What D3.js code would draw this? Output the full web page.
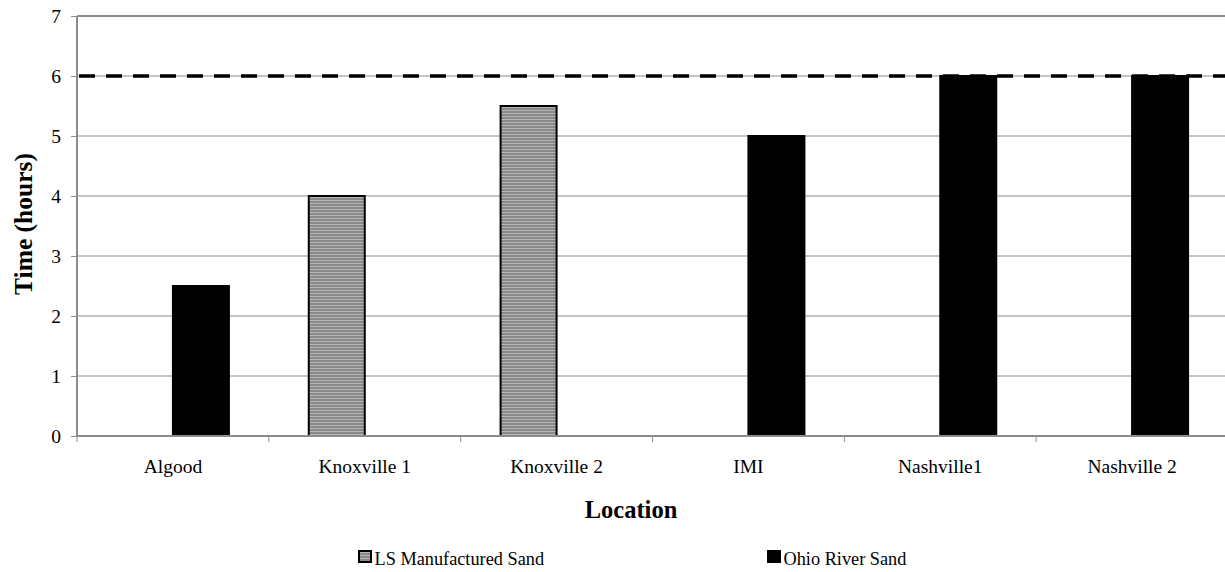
<!DOCTYPE html>
<html>
<head>
<meta charset="utf-8">
<script src="https://cdn.jsdelivr.net/npm/d3@7"></script>
<style>
  html, body { margin: 0; padding: 0; background: #fff; }
  svg { display: block; }
  svg text { font-family: 'Liberation Serif', 'Times New Roman', Times, 'DejaVu Serif', serif; fill: #000; }
</style>
</head>
<body>
<svg id="chart" width="1225" height="572"></svg>
<script>
// Set times by location and sand type (hours)
const locations = ["Algood", "Knoxville 1", "Knoxville 2", "IMI", "Nashville1", "Nashville 2"];
const seriesNames = ["LS Manufactured Sand", "Ohio River Sand"];
const lsSand = [null, 4, 5.5, null, null, null];
const ohioSand = [2.5, null, null, 5, 6, 6];
const yTicks = [0, 1, 2, 3, 4, 5, 6, 7];
const limitHours = 6;

const svg = d3.select("#chart");
const margin = { left: 77, top: 16, right: 1228, bottom: 436 };

const x = d3.scaleBand().domain(locations).range([margin.left, margin.right]).padding(0);
const y = d3.scaleLinear().domain([0, 7]).range([margin.bottom, margin.top]);
const sub = d3.scaleBand().domain(seriesNames).range([-56, 56]).padding(0);

// Striped fill for the manufactured sand bars
const defs = svg.append("defs");
const pat = defs.append("pattern").attr("id", "stripes")
  .attr("patternUnits", "userSpaceOnUse").attr("width", 4).attr("height", 3);
pat.append("rect").attr("width", 4).attr("height", 3).attr("fill", "#8a8a8a");
pat.append("rect").attr("y", 2).attr("width", 4).attr("height", 1).attr("fill", "#b4b4b4");

// Horizontal gridlines
svg.append("g").selectAll("line").data(yTicks.filter(d => d > 0 && d < 7)).join("line")
  .attr("x1", margin.left).attr("x2", margin.right)
  .attr("y1", d => y(d)).attr("y2", d => y(d))
  .attr("stroke", "#8c8c8c").attr("stroke-width", 1);

// Top frame edge
svg.append("line").attr("x1", margin.left).attr("x2", margin.right)
  .attr("y1", y(7)).attr("y2", y(7)).attr("stroke", "#8c8c8c").attr("stroke-width", 2);

// Bars
const fills = { "LS Manufactured Sand": "url(#stripes)", "Ohio River Sand": "#000" };
const rows = [];
locations.forEach((loc, i) => {
  if (lsSand[i] != null) rows.push({ loc, s: seriesNames[0], v: lsSand[i] });
  if (ohioSand[i] != null) rows.push({ loc, s: seriesNames[1], v: ohioSand[i] });
});
svg.append("g").selectAll("rect").data(rows).join("rect")
  .attr("x", d => x(d.loc) + x.bandwidth() / 2 + sub(d.s))
  .attr("width", sub.bandwidth())
  .attr("y", d => y(d.v))
  .attr("height", d => y(0) - y(d.v))
  .attr("fill", d => fills[d.s])
  .attr("stroke", "#000").attr("stroke-width", 2);

// Y axis
const yAxis = svg.append("g").attr("transform", `translate(${margin.left},0)`)
  .call(d3.axisLeft(y).tickValues(yTicks).tickSize(6).tickPadding(10).tickFormat(d3.format("d")))
  .attr("font-family", null).attr("font-size", null);
yAxis.select(".domain").attr("stroke", "#8c8c8c").attr("stroke-width", 2)
  .attr("d", `M0,${margin.top}V${margin.bottom}`);
yAxis.selectAll(".tick line").attr("stroke", "#8c8c8c");
yAxis.selectAll(".tick text").style("font-size", "19.5px");

// X axis with ticks on category boundaries
const xAxis = svg.append("g").attr("transform", `translate(0,${margin.bottom})`)
  .call(d3.axisBottom(x).tickSize(0))
  .attr("font-family", null).attr("font-size", null);
xAxis.select(".domain").attr("stroke", "#8c8c8c").attr("stroke-width", 2)
  .attr("d", `M${margin.left},0H${margin.right}`);
xAxis.selectAll(".tick text").attr("y", 37).attr("dy", null).style("font-size", "19.5px");
svg.append("g").selectAll("line").data(locations).join("line")
  .attr("x1", d => x(d)).attr("x2", d => x(d))
  .attr("y1", margin.bottom).attr("y2", margin.bottom + 6)
  .attr("stroke", "#8c8c8c").attr("stroke-width", 1);

// Limit line
svg.append("line")
  .attr("x1", margin.left + 2).attr("x2", margin.right)
  .attr("y1", y(limitHours)).attr("y2", y(limitHours))
  .attr("stroke", "#000").attr("stroke-width", 3.5)
  .attr("stroke-dasharray", "16,11");

// Axis titles
svg.append("text").attr("x", 631).attr("y", 518).attr("text-anchor", "middle")
  .style("font-size", "24.5px").style("font-weight", "bold").text("Location");
svg.append("text").attr("transform", `translate(32,224) rotate(-90)`)
  .attr("text-anchor", "middle")
  .style("font-size", "25.5px").style("font-weight", "bold").text("Time (hours)");

// Legend
const legendX = [358, 767];
const lg = svg.append("g").selectAll("g").data(seriesNames).join("g")
  .attr("transform", (d, i) => `translate(${legendX[i]},550)`);
lg.append("rect").attr("x", 1).attr("y", 1).attr("width", 12).attr("height", 11)
  .attr("fill", d => fills[d]).attr("stroke", "#000").attr("stroke-width", 2);
lg.append("text").attr("x", 16.5).attr("y", 15).style("font-size", "18.3px").text(d => d);
</script>
</body>
</html>
